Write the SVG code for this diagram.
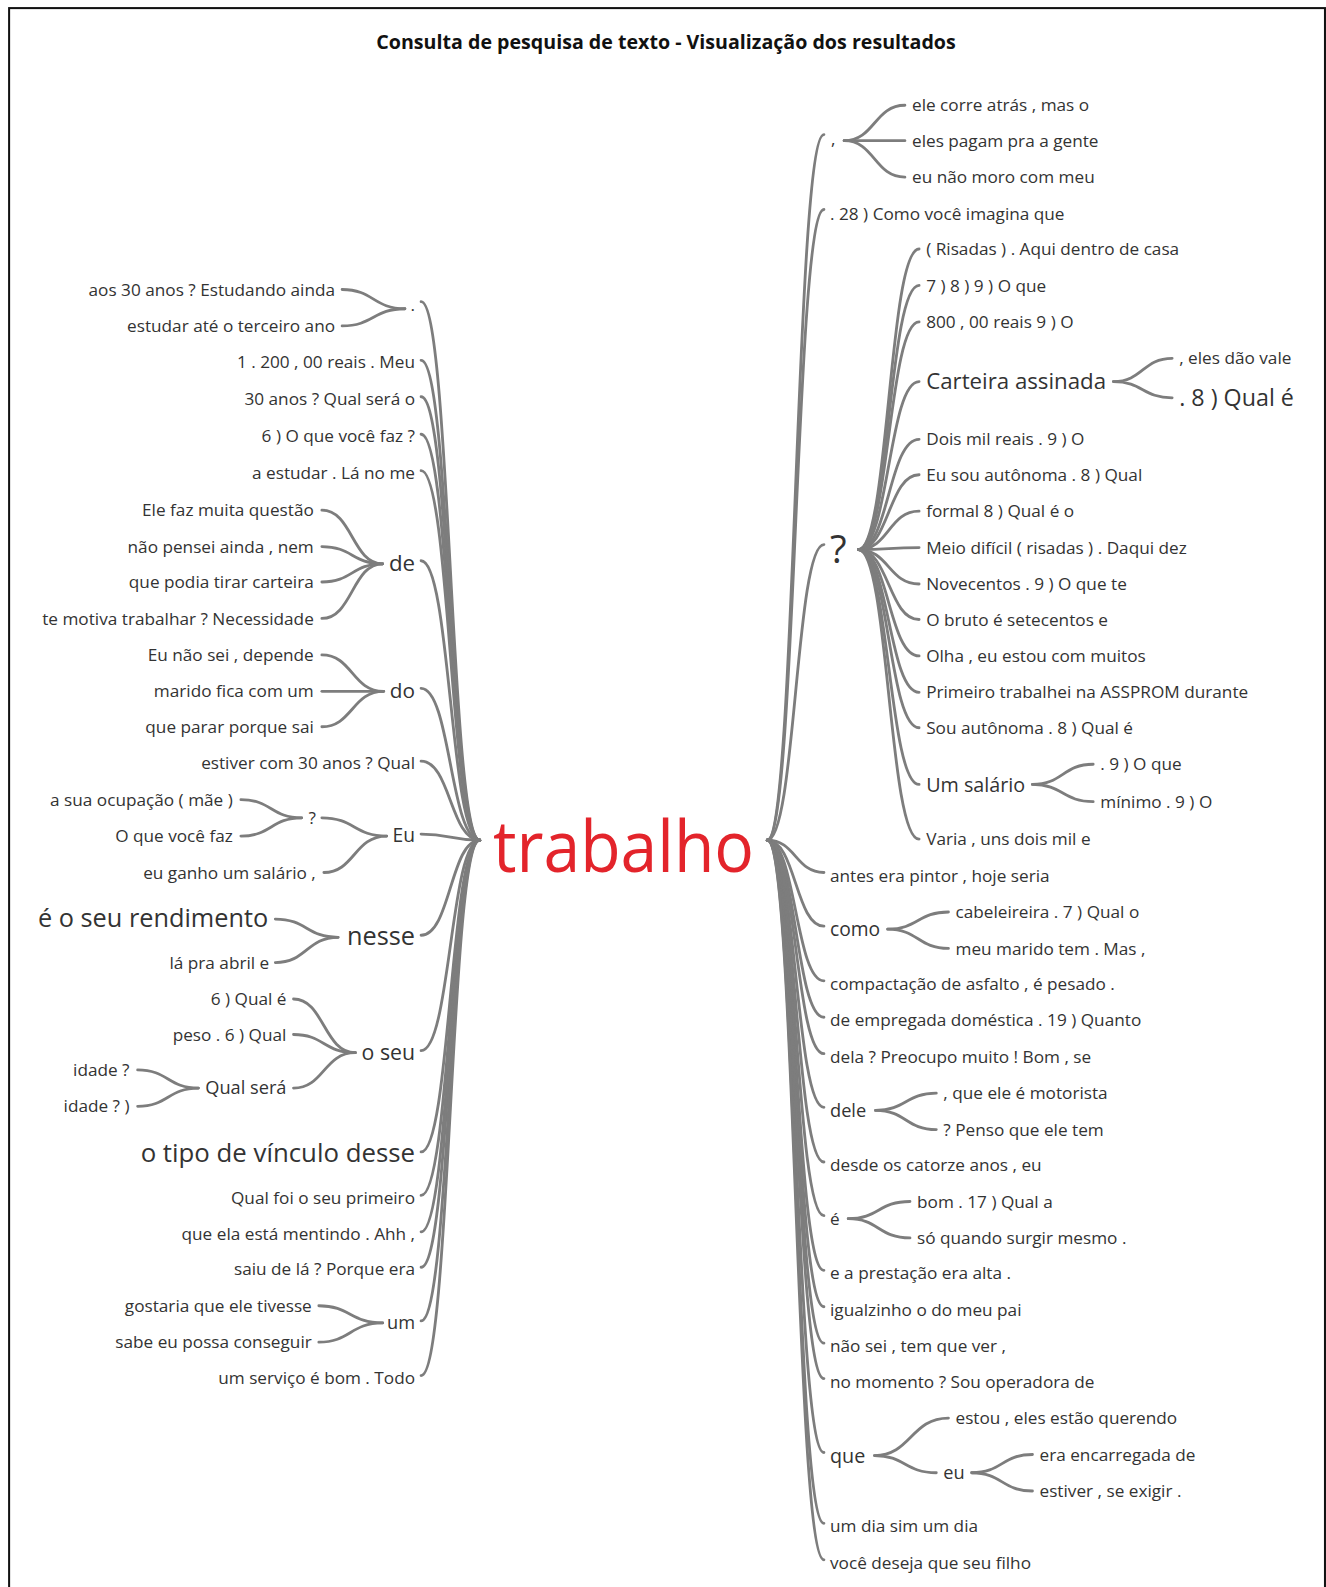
<svg xmlns="http://www.w3.org/2000/svg" width="1326" height="1587" viewBox="0 0 1326 1587">
<style>
text{font-family:"Open Sans","Noto Sans","Liberation Sans",sans-serif;fill:#333;font-size:17px}
.e{text-anchor:end}
.title{font-weight:bold;font-size:19.4px;fill:#111;text-anchor:middle}
.hub{fill:#e3242b;font-size:71px}
#connectors path{fill:none;stroke:#7d7d7d;stroke-width:2.8;stroke-linecap:round}
</style>
<rect x="0" y="0" width="1326" height="1587" fill="#fff"/>
<g transform="scale(1.0122)">
<rect id="frame" x="9" y="8" width="1300" height="1600" fill="none" stroke="#111" stroke-width="2"/>
<text class="title" x="658" y="48">Consulta de pesquisa de texto - Visualização dos resultados</text>

<g id="connectors">
<path d="M416 298C445 298 445 830 474 830"/>
<path d="M416 356C445 356 445 830 474 830"/>
<path d="M416 392C445 392 445 830 474 830"/>
<path d="M416 429C445 429 445 830 474 830"/>
<path d="M416 465C445 465 445 830 474 830"/>
<path d="M416 554C445 554 445 830 474 830"/>
<path d="M416 680C445 680 445 830 474 830"/>
<path d="M416 752C445 752 445 830 474 830"/>
<path d="M416 824C445 824 445 830 474 830"/>
<path d="M416 924C445 924 445 830 474 830"/>
<path d="M416 1038C445 1038 445 830 474 830"/>
<path d="M416 1138C445 1138 445 830 474 830"/>
<path d="M416 1181C445 1181 445 830 474 830"/>
<path d="M416 1217C445 1217 445 830 474 830"/>
<path d="M416 1252C445 1252 445 830 474 830"/>
<path d="M416 1305C445 1305 445 830 474 830"/>
<path d="M416 1359C445 1359 445 830 474 830"/>
<path d="M400 305C369 305 369 286 338 286"/>
<path d="M400 305C369 305 369 322 338 322"/>
<path d="M378 557C348 557 348 504 318 504"/>
<path d="M378 557C348 557 348 540 318 540"/>
<path d="M378 557C348 557 348 575 318 575"/>
<path d="M378 557C348 557 348 611 318 611"/>
<path d="M379 683C348 683 348 647 318 647"/>
<path d="M379 683C348 683 348 683 318 683"/>
<path d="M379 683C348 683 348 718 318 718"/>
<path d="M382 826C350 826 350 808 318 808"/>
<path d="M382 826C350 826 350 862 320 862"/>
<path d="M298 808C268 808 268 790 238 790"/>
<path d="M298 808C268 808 268 826 238 826"/>
<path d="M334 926C303 926 303 908 272 908"/>
<path d="M334 926C303 926 303 951 272 951"/>
<path d="M351 1040C320 1040 320 987 290 987"/>
<path d="M351 1040C320 1040 320 1022 290 1022"/>
<path d="M351 1040C320 1040 320 1075 290 1075"/>
<path d="M196 1075C166 1075 166 1057 136 1057"/>
<path d="M196 1075C166 1075 166 1093 136 1093"/>
<path d="M378 1307C346 1307 346 1290 315 1290"/>
<path d="M378 1307C346 1307 346 1326 315 1326"/>
<path d="M758 830C786 830 786 133 814 133"/>
<path d="M758 830C786 830 786 207 814 207"/>
<path d="M758 830C786 830 786 538 814 538"/>
<path d="M758 830C786 830 786 862 814 862"/>
<path d="M758 830C786 830 786 915 814 915"/>
<path d="M758 830C786 830 786 969 814 969"/>
<path d="M758 830C786 830 786 1005 814 1005"/>
<path d="M758 830C786 830 786 1041 814 1041"/>
<path d="M758 830C786 830 786 1094 814 1094"/>
<path d="M758 830C786 830 786 1148 814 1148"/>
<path d="M758 830C786 830 786 1201 814 1201"/>
<path d="M758 830C786 830 786 1255 814 1255"/>
<path d="M758 830C786 830 786 1291 814 1291"/>
<path d="M758 830C786 830 786 1327 814 1327"/>
<path d="M758 830C786 830 786 1362 814 1362"/>
<path d="M758 830C786 830 786 1435 814 1435"/>
<path d="M758 830C786 830 786 1505 814 1505"/>
<path d="M758 830C786 830 786 1541 814 1541"/>
<path d="M834 139C864 139 864 104 894 104"/>
<path d="M834 139C864 139 864 139 894 139"/>
<path d="M834 139C864 139 864 175 894 175"/>
<path d="M848 543C878 543 878 246 908 246"/>
<path d="M848 543C878 543 878 282 908 282"/>
<path d="M848 543C878 543 878 318 908 318"/>
<path d="M848 543C878 543 878 377 908 377"/>
<path d="M848 543C878 543 878 434 908 434"/>
<path d="M848 543C878 543 878 469 908 469"/>
<path d="M848 543C878 543 878 505 908 505"/>
<path d="M848 543C878 543 878 541 908 541"/>
<path d="M848 543C878 543 878 577 908 577"/>
<path d="M848 543C878 543 878 612 908 612"/>
<path d="M848 543C878 543 878 648 908 648"/>
<path d="M848 543C878 543 878 684 908 684"/>
<path d="M848 543C878 543 878 719 908 719"/>
<path d="M848 543C878 543 878 775 908 775"/>
<path d="M848 543C878 543 878 829 908 829"/>
<path d="M1100 377C1129 377 1129 354 1158 354"/>
<path d="M1100 377C1129 377 1129 393 1158 393"/>
<path d="M1020 775C1050 775 1050 755 1080 755"/>
<path d="M1020 775C1050 775 1050 792 1080 792"/>
<path d="M877 918C907 918 907 901 937 901"/>
<path d="M877 918C907 918 907 937 937 937"/>
<path d="M865 1097C895 1097 895 1080 925 1080"/>
<path d="M865 1097C895 1097 895 1116 925 1116"/>
<path d="M838 1204C868 1204 868 1187 899 1187"/>
<path d="M838 1204C868 1204 868 1223 899 1223"/>
<path d="M864 1438C900 1438 900 1401 937 1401"/>
<path d="M864 1438C894 1438 894 1455 925 1455"/>
<path d="M960 1455C990 1455 990 1437 1020 1437"/>
<path d="M960 1455C990 1455 990 1473 1020 1473"/>
</g>

<g id="n-trabalho"><text class="hub" x="487" y="861" textLength="258" lengthAdjust="spacingAndGlyphs">trabalho</text></g>

<g id="n-l-dot"><text class="e" x="410" y="307">.</text></g>
<g id="n-l-dot-1"><text class="e" x="331" y="292">aos 30 anos ? Estudando ainda</text></g>
<g id="n-l-dot-2"><text class="e" x="331" y="328">estudar até o terceiro ano</text></g>
<g id="n-l2"><text class="e" x="410" y="364">1 . 200 , 00 reais . Meu</text></g>
<g id="n-l3"><text class="e" x="410" y="400">30 anos ? Qual será o</text></g>
<g id="n-l4"><text class="e" x="410" y="437">6 ) O que você faz ?</text></g>
<g id="n-l5"><text class="e" x="410" y="473">a estudar . Lá no me</text></g>
<g id="n-de"><text class="e" x="410" y="564" style="font-size:22px">de</text></g>
<g id="n-de-1"><text class="e" x="310" y="510">Ele faz muita questão</text></g>
<g id="n-de-2"><text class="e" x="310" y="546">não pensei ainda , nem</text></g>
<g id="n-de-3"><text class="e" x="310" y="581">que podia tirar carteira</text></g>
<g id="n-de-4"><text class="e" x="310" y="617">te motiva trabalhar ? Necessidade</text></g>
<g id="n-do"><text class="e" x="410" y="690" style="font-size:20.5px">do</text></g>
<g id="n-do-1"><text class="e" x="310" y="653">Eu não sei , depende</text></g>
<g id="n-do-2"><text class="e" x="310" y="689">marido fica com um</text></g>
<g id="n-do-3"><text class="e" x="310" y="724">que parar porque sai</text></g>
<g id="n-l8"><text class="e" x="410" y="760">estiver com 30 anos ? Qual</text></g>
<g id="n-eu"><text class="e" x="410" y="832" style="font-size:19px">Eu</text></g>
<g id="n-eu-q"><text class="e" x="312" y="814">?</text></g>
<g id="n-eu-q-1"><text class="e" x="230" y="796">a sua ocupação ( mãe )</text></g>
<g id="n-eu-q-2"><text class="e" x="230" y="832">O que você faz</text></g>
<g id="n-eu-2"><text class="e" x="312" y="868">eu ganho um salário ,</text></g>
<g id="n-nesse"><text class="e" x="410" y="934" style="font-size:25px">nesse</text></g>
<g id="n-nesse-1"><text class="e" x="265" y="916" style="font-size:25px">é o seu rendimento</text></g>
<g id="n-nesse-2"><text class="e" x="266" y="957">lá pra abril e</text></g>
<g id="n-oseu"><text class="e" x="410" y="1047" style="font-size:21px">o seu</text></g>
<g id="n-oseu-1"><text class="e" x="283" y="993">6 ) Qual é</text></g>
<g id="n-oseu-2"><text class="e" x="283" y="1028">peso . 6 ) Qual</text></g>
<g id="n-qualsera"><text class="e" x="283" y="1081" style="font-size:18px">Qual será</text></g>
<g id="n-qualsera-1"><text class="e" x="128" y="1063">idade ?</text></g>
<g id="n-qualsera-2"><text class="e" x="128" y="1099">idade ? )</text></g>
<g id="n-l12"><text class="e" x="410" y="1148" style="font-size:25.5px">o tipo de vínculo desse</text></g>
<g id="n-l13"><text class="e" x="410" y="1189">Qual foi o seu primeiro</text></g>
<g id="n-l14"><text class="e" x="410" y="1225">que ela está mentindo . Ahh ,</text></g>
<g id="n-l15"><text class="e" x="410" y="1260">saiu de lá ? Porque era</text></g>
<g id="n-um"><text class="e" x="410" y="1313" style="font-size:18px">um</text></g>
<g id="n-um-1"><text class="e" x="308" y="1296">gostaria que ele tivesse</text></g>
<g id="n-um-2"><text class="e" x="308" y="1332">sabe eu possa conseguir</text></g>
<g id="n-l17"><text class="e" x="410" y="1367">um serviço é bom . Todo</text></g>

<g id="n-r-comma"><text x="821" y="143">,</text></g>
<g id="n-r-comma-1"><text x="901" y="110">ele corre atrás , mas o</text></g>
<g id="n-r-comma-2"><text x="901" y="145">eles pagam pra a gente</text></g>
<g id="n-r-comma-3"><text x="901" y="181">eu não moro com meu</text></g>
<g id="n-r2"><text x="820" y="217">. 28 ) Como você imagina que</text></g>
<g id="n-r-q"><text x="820" y="556" style="font-size:38px">?</text></g>
<g id="n-q-1"><text x="915" y="252">( Risadas ) . Aqui dentro de casa</text></g>
<g id="n-q-2"><text x="915" y="288">7 ) 8 ) 9 ) O que</text></g>
<g id="n-q-3"><text x="915" y="324">800 , 00 reais 9 ) O</text></g>
<g id="n-carteira"><text x="915" y="384" style="font-size:22px">Carteira assinada</text></g>
<g id="n-carteira-1"><text x="1165" y="360">, eles dão vale</text></g>
<g id="n-carteira-2"><text x="1165" y="401" style="font-size:23px">. 8 ) Qual é</text></g>
<g id="n-q-5"><text x="915" y="440">Dois mil reais . 9 ) O</text></g>
<g id="n-q-6"><text x="915" y="475">Eu sou autônoma . 8 ) Qual</text></g>
<g id="n-q-7"><text x="915" y="511">formal 8 ) Qual é o</text></g>
<g id="n-q-8"><text x="915" y="547">Meio difícil ( risadas ) . Daqui dez</text></g>
<g id="n-q-9"><text x="915" y="583">Novecentos . 9 ) O que te</text></g>
<g id="n-q-10"><text x="915" y="618">O bruto é setecentos e</text></g>
<g id="n-q-11"><text x="915" y="654">Olha , eu estou com muitos</text></g>
<g id="n-q-12"><text x="915" y="690">Primeiro trabalhei na ASSPROM durante</text></g>
<g id="n-q-13"><text x="915" y="725">Sou autônoma . 8 ) Qual é</text></g>
<g id="n-umsalario"><text x="915" y="782" style="font-size:19.5px">Um salário</text></g>
<g id="n-umsalario-1"><text x="1087" y="761">. 9 ) O que</text></g>
<g id="n-umsalario-2"><text x="1087" y="798">mínimo . 9 ) O</text></g>
<g id="n-q-15"><text x="915" y="835">Varia , uns dois mil e</text></g>
<g id="n-r4"><text x="820" y="871">antes era pintor , hoje seria</text></g>
<g id="n-como"><text x="820" y="925" style="font-size:19px">como</text></g>
<g id="n-como-1"><text x="944" y="907">cabeleireira . 7 ) Qual o</text></g>
<g id="n-como-2"><text x="944" y="943">meu marido tem . Mas ,</text></g>
<g id="n-r6"><text x="820" y="978">compactação de asfalto , é pesado .</text></g>
<g id="n-r7"><text x="820" y="1014">de empregada doméstica . 19 ) Quanto</text></g>
<g id="n-r8"><text x="820" y="1050">dela ? Preocupo muito ! Bom , se</text></g>
<g id="n-dele"><text x="820" y="1104" style="font-size:18px">dele</text></g>
<g id="n-dele-1"><text x="932" y="1086">, que ele é motorista</text></g>
<g id="n-dele-2"><text x="932" y="1122">? Penso que ele tem</text></g>
<g id="n-r10"><text x="820" y="1157">desde os catorze anos , eu</text></g>
<g id="n-e"><text x="820" y="1210">é</text></g>
<g id="n-e-1"><text x="906" y="1193">bom . 17 ) Qual a</text></g>
<g id="n-e-2"><text x="906" y="1229">só quando surgir mesmo .</text></g>
<g id="n-r12"><text x="820" y="1264">e a prestação era alta .</text></g>
<g id="n-r13"><text x="820" y="1300">igualzinho o do meu pai</text></g>
<g id="n-r14"><text x="820" y="1336">não sei , tem que ver ,</text></g>
<g id="n-r15"><text x="820" y="1371">no momento ? Sou operadora de</text></g>
<g id="n-que"><text x="820" y="1445" style="font-size:19.5px">que</text></g>
<g id="n-que-1"><text x="944" y="1407">estou , eles estão querendo</text></g>
<g id="n-que-eu"><text x="932" y="1461" style="font-size:18px">eu</text></g>
<g id="n-que-eu-1"><text x="1027" y="1443">era encarregada de</text></g>
<g id="n-que-eu-2"><text x="1027" y="1479">estiver , se exigir .</text></g>
<g id="n-r17"><text x="820" y="1514">um dia sim um dia</text></g>
<g id="n-r18"><text x="820" y="1550">você deseja que seu filho</text></g>
</g>
</svg>
